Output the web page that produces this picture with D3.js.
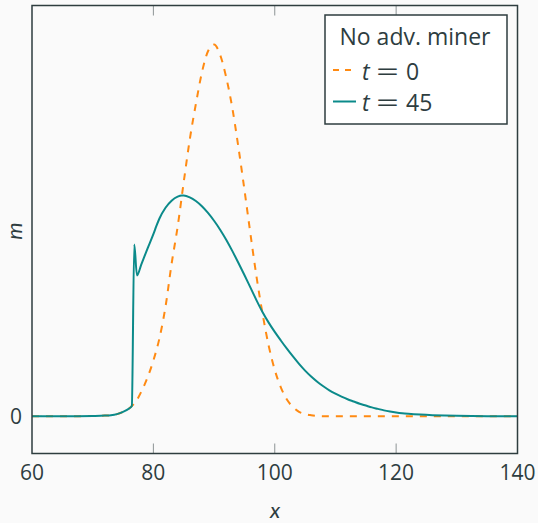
<!DOCTYPE html>
<html><head><meta charset="utf-8">
<script src="https://cdn.jsdelivr.net/npm/d3@7"></script>
<style>
html,body{margin:0;padding:0;background:#fafafa;}
svg{display:block;font-family:"Open Sans",sans-serif;}
</style></head>
<body>
<svg id="c" width="538" height="523"></svg>
<script>
// Data
const xTicks = [60, 80, 100, 120, 140];
const yTicks = [0];
const seriesNames = ["t = 0", "t = 45"];
const legendTitle = "No adv. miner";

const x0 = [60,65,70,72,73,74,75,76,76.45,77,78,79,80,81,82,83,84,85,86,87,88,89,90,91,92,93,94,95,96,97,98,99,100,101,102,103,104,105,106,107,108,110,115,120,130,140];
const y0 = [0,0,0.001,0.002,0.003,0.006,0.012,0.021,0.028,0.037,0.066,0.103,0.15,0.21,0.295,0.41,0.51,0.63,0.745,0.84,0.925,0.982,1.0,0.972,0.912,0.83,0.725,0.61,0.49,0.375,0.275,0.19,0.125,0.078,0.045,0.025,0.012,0.006,0.003,0.001,0,0,0,0,0,0];

const x45 = [60,65,70,72,73,74,75,76,76.45,76.85,77.3,78,79,80,80.5,81,82,83,84,84.7,85,86,87,88,89,90,91,92,93,94,95,96,97,98,99,100,101,102,103,104,105,106,107,108,109,110,111,112,113,114,115,116,117,118,119,120,121,122,124,126,128,130,135,140];
const y45 = [0,0,0.001,0.002,0.003,0.006,0.012,0.021,0.028,0.462,0.379,0.408,0.45,0.49,0.512,0.532,0.561,0.58,0.591,0.594,0.594,0.589,0.579,0.565,0.547,0.526,0.502,0.475,0.445,0.413,0.38,0.346,0.312,0.28,0.252,0.227,0.204,0.182,0.161,0.141,0.123,0.107,0.093,0.081,0.07,0.061,0.053,0.046,0.04,0.034,0.029,0.024,0.02,0.016,0.013,0.0105,0.0085,0.007,0.0047,0.0031,0.002,0.0013,0.0004,0];

const colors = ["#ff8a12", "#0b8a8a"];
const axisColor = "#2e3d3f";

const svg = d3.select("#c");
const L = 32, R = 517.5, T = 5.5, B = 453.5;
const x = d3.scaleLinear().domain([60, 140]).range([L, R]);
const y = d3.scaleLinear().domain([-0.1, 1.105]).range([B, T]);

svg.append("rect").attr("width",538).attr("height",523).attr("fill","#fafafa");

const g = svg.append("g");
// ticks (inside)
const tickLen = 10;
const tickColor = "#8c9394";
g.selectAll(".tb").data(xTicks.slice(1,-1)).enter().append("line")
  .attr("x1",d=>x(d)).attr("x2",d=>x(d)).attr("y1",B).attr("y2",B-tickLen)
  .attr("stroke",tickColor).attr("stroke-width",1);
g.selectAll(".tt").data(xTicks.slice(1,-1)).enter().append("line")
  .attr("x1",d=>x(d)).attr("x2",d=>x(d)).attr("y1",T).attr("y2",T+tickLen)
  .attr("stroke",tickColor).attr("stroke-width",1);
g.selectAll(".tl").data(yTicks).enter().append("line")
  .attr("x1",L).attr("x2",L+tickLen).attr("y1",d=>y(d)).attr("y2",d=>y(d))
  .attr("stroke",tickColor).attr("stroke-width",1);
g.selectAll(".tr").data(yTicks).enter().append("line")
  .attr("x1",R).attr("x2",R-tickLen).attr("y1",d=>y(d)).attr("y2",d=>y(d))
  .attr("stroke",tickColor).attr("stroke-width",1);

// lines
const line = d3.line().x(d=>x(d[0])).y(d=>y(d[1])).curve(d3.curveMonotoneX);
const d0 = x0.map((v,i)=>[v,y0[i]]);
const d45 = x45.map((v,i)=>[v,y45[i]]);
svg.append("path").attr("d",line(d0)).attr("fill","none")
  .attr("stroke",colors[0]).attr("stroke-width",2).attr("stroke-dasharray","7,7");
svg.append("path").attr("d",line(d45)).attr("fill","none")
  .attr("stroke",colors[1]).attr("stroke-width",2).attr("stroke-linejoin","round");

// frame
svg.append("rect").attr("x",L).attr("y",T).attr("width",R-L).attr("height",B-T)
  .attr("fill","none").attr("stroke",axisColor).attr("stroke-width",1.5);

// tick labels
svg.selectAll(".xl").data(xTicks).enter().append("text")
  .attr("x",d=>x(d)).attr("y",480).attr("text-anchor","middle")
  .attr("font-size",21).attr("fill",axisColor).text(d=>d);
svg.selectAll(".yl").data(yTicks).enter().append("text")
  .attr("x",16).attr("y",d=>y(d)+8).attr("text-anchor","middle")
  .attr("font-size",21).attr("fill",axisColor).text(d=>d);

// axis labels
svg.append("text").attr("x",275).attr("y",518).attr("text-anchor","middle")
  .attr("font-family","Lato").attr("font-size",22).attr("font-style","italic").attr("fill",axisColor).text("x");
svg.append("text").attr("transform","translate(22,231) rotate(-90)")
  .attr("text-anchor","middle").attr("font-family","Lato").attr("font-size",22).attr("font-style","italic")
  .attr("fill",axisColor).text("m");

// legend
const lg = svg.append("g");
lg.append("rect").attr("x",325).attr("y",15).attr("width",182).attr("height",109)
  .attr("fill","#ffffff").attr("stroke",axisColor).attr("stroke-width",1.5);
lg.append("text").attr("x",415).attr("y",45).attr("text-anchor","middle")
  .attr("font-size",23).attr("fill",axisColor).text(legendTitle);
const rows = [{y:70, base:79.5, dash:"6,6"}, {y:101.5, base:110.5, dash:null}];
seriesNames.forEach((name,i)=>{
  const r = rows[i];
  const l = lg.append("line").attr("x1",333).attr("x2",356).attr("y1",r.y).attr("y2",r.y)
    .attr("stroke",colors[i]).attr("stroke-width",2);
  if (r.dash) l.attr("stroke-dasharray",r.dash);
  const parts = name.split(" = ");
  const t = lg.append("text").attr("x",362).attr("y",r.base).attr("font-size",23).attr("fill",axisColor);
  t.append("tspan").attr("font-style","italic").text(parts[0]);
  t.append("tspan").attr("x",376).text("=").attr("textLength",23).attr("lengthAdjust","spacingAndGlyphs");
  t.append("tspan").attr("x",406).text(parts[1]);
});
</script>
</body></html>
